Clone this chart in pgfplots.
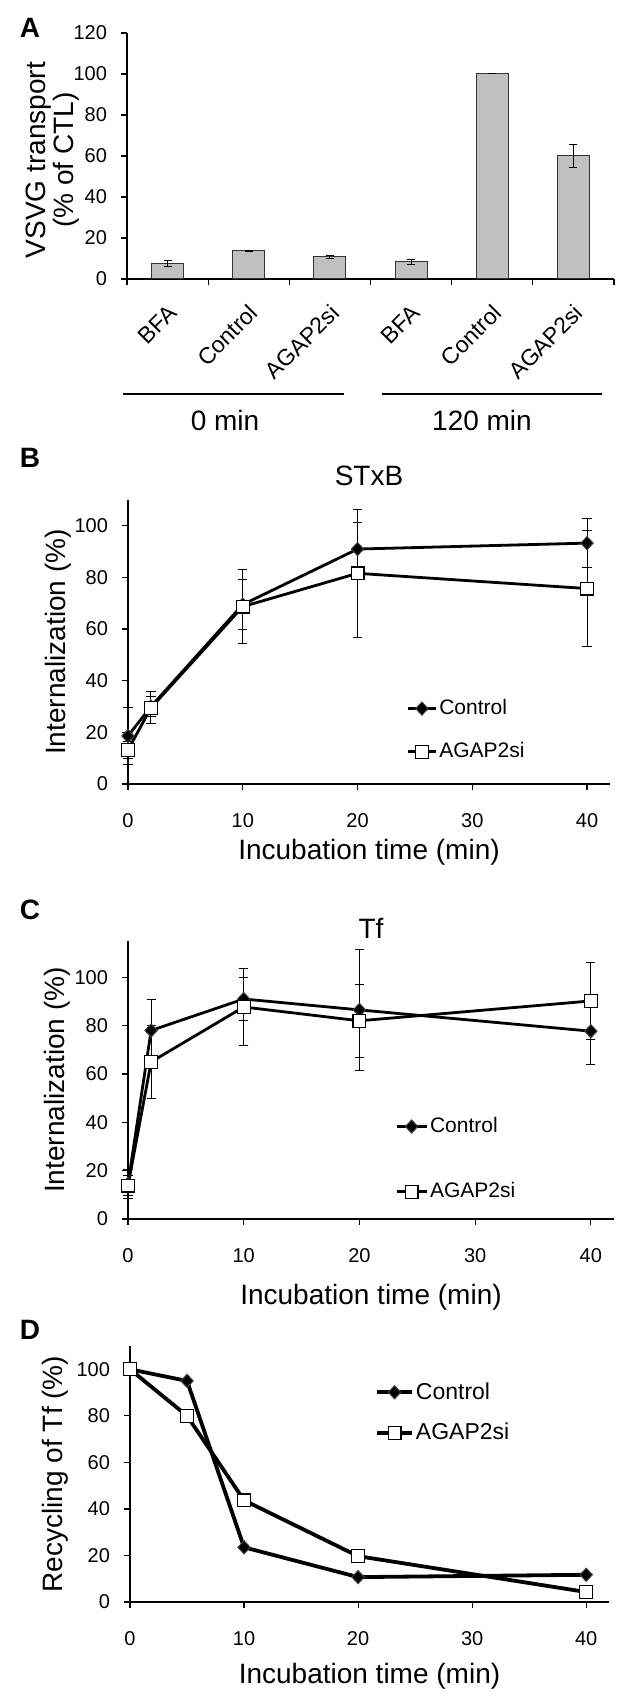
\documentclass[border=0pt]{standalone}
\usepackage{fontspec}
\setmainfont{Liberation Sans}
\usepackage{pgfplots}
\usepackage{pgfplotstable}
\pgfplotsset{compat=1.18}
\definecolor{barg}{RGB}{192,192,192}
\newcommand{\fs}[1]{\fontsize{#1}{#1}\selectfont}

\pgfplotstableread{
x y e
0 7.6 1.3
1 13.8 0.3
2 10.9 0.8
3 8.3 1.2
4 100 0
5 60 5.6
}\dataA
\pgfplotstableread{
x y e
0 18.6 11
2 30 4
10 69.5 9.8
20 91 10.2
40 93.3 9.5
}\dataBc
\pgfplotstableread{
x y e
0 13.2 3.2
2 29.5 6.2
10 68.7 14.3
20 81.6 24.7
40 75.7 22.5
}\dataBa
\pgfplotstableread{
x y e
0 14.5 6
2 78 13
10 91 9
20 86.5 24.9
40 77.7 13.8
}\dataCc
\pgfplotstableread{
x y e
0 13.8 4
2 65 15
10 87.7 16
20 82 15.2
40 90.2 16
}\dataCa
\pgfplotstableread{
x y
0 100
5 95
10 23.5
20 10.7
40 11.7
}\dataDc
\pgfplotstableread{
x y
0 100
5 80
10 43.7
20 19.7
40 4.3
}\dataDa

\pgfplotsset{
  panel/.style={
    scale only axis,
    anchor=south west,
    axis lines=left,
    axis line style={-, line width=0.6pt},
    tick align=outside,
    major tick length=3pt,
    minor tick length=3pt,
    every tick/.style={black, line width=0.6pt},
    /pgf/number format/assume math mode=true,
    clip=false,
    label style={font=\fs{14}},
    yticklabel style={font=\fs{10}, xshift=-3.5pt},
  },
  linepanel/.style={
    panel,
    xmin=0, xmax=42, ymin=0,
    xtick={0,10,20,30,40},
    ytick={0,20,40,60,80,100},
    xticklabel style={font=\fs{10}, yshift=-8pt},
    legend cell align=left,
    xlabel={Incubation time (min)},
  },
  ctl/.style={black, line width=1.4pt, mark=diamond*, mark size=3.3pt,
    mark options={solid, fill=black, draw=black!75, line width=0.5pt, xscale=1.25}},
  agap/.style={black, line width=1.4pt, mark=square*, mark size=3.2pt,
    mark options={solid, fill=white, draw=black, line width=0.6pt}},
  eb/.style={error bars/y dir=both, error bars/y explicit, error bars/error mark=-,
    error bars/error mark options={rotate=90, black, line width=0.5pt, mark size=2.3pt},
    error bars/error bar style={black, line width=0.5pt}},
}

\begin{document}
\begin{tikzpicture}
\useasboundingbox (0,0) rectangle (311pt,-850.5pt);

% Panel letters and titles
\node[font=\bfseries\fs{14}] at (15pt,-14pt) {A};
\node[font=\bfseries\fs{14}] at (15pt,-229pt) {B};
\node[font=\bfseries\fs{14}] at (15pt,-455pt) {C};
\node[font=\bfseries\fs{14}] at (15pt,-665pt) {D};
\node[font=\fs{14}] at (184.5pt,-238pt) {STxB};
\node[font=\fs{14}] at (185.5pt,-464pt) {Tf};

% Panel A
\begin{axis}[panel,
  at={(63.5pt,-139.5pt)}, width=243.5pt, height=123pt,
  xmin=-0.5, xmax=5.5, ymin=0, ymax=120,
  ytick={0,20,...,120},
  xtick={0,...,5},
  xticklabels={BFA,Control,AGAP2si,BFA,Control,AGAP2si},
  minor xtick={-0.5,0.5,...,5.5},
  major x tick style={draw=none},
  xticklabel style={xshift=5pt, yshift=-9.5pt, rotate=45, anchor=east, font=\fs{11.5}},
  ylabel={VSVG transport\\(\% of CTL)},
  ylabel style={at={(axis description cs:-0.152,0.4837)}, anchor=center, align=center, font=\fontsize{14}{14}\selectfont},
]
\addplot[ybar, bar width=16pt, fill=barg, draw=black!80, line width=0.5pt,
  error bars/y dir=both, error bars/y explicit, error bars/error mark=-,
  error bars/error mark options={rotate=90, black, line width=0.5pt, mark size=2pt},
  error bars/error bar style={black, line width=0.5pt}]
  table[x=x, y=y, y error=e] {\dataA};
\end{axis}
\draw[line width=0.65pt] (61.5pt,-197pt) -- (172pt,-197pt);
\draw[line width=0.65pt] (191pt,-197pt) -- (301pt,-197pt);
\node[font=\fs{14}] at (112.5pt,-210pt) {0 min};
\node[font=\fs{14}] at (241pt,-210pt) {120 min};

% Panel B
\begin{axis}[linepanel,
  at={(64pt,-392pt)}, width=241pt, height=142pt, ymax=110,
  ylabel={Internalization (\%)},
  ylabel style={at={(axis description cs:-0.145,0.5)}, anchor=center},
  xlabel style={at={(axis description cs:0.5,-0.2394)}, anchor=center},
  legend style={draw=none, fill=none, at={(axis description cs:0.577,0.306)}, anchor=north west,
    inner sep=0pt, row sep=10.5pt, column sep=0pt, font=\fs{10.5}, nodes={inner sep=1pt}},
  legend image code/.code={\draw[mark repeat=2,mark phase=2,#1] plot coordinates {(0pt,0pt) (7pt,0pt) (14pt,0pt)};},
]
\addplot[ctl, eb] table[x=x, y=y, y error=e] {\dataBc};
\addlegendentry{Control}
\addplot[agap, eb] table[x=x, y=y, y error=e] {\dataBa};
\addlegendentry{AGAP2si}
\end{axis}

% Panel C
\begin{axis}[linepanel,
  at={(64pt,-609.5pt)}, width=243pt, height=139pt, ymax=115,
  ylabel={Internalization (\%)},
  ylabel style={at={(axis description cs:-0.146,0.5)}, anchor=center},
  xlabel style={at={(axis description cs:0.5,-0.2806)}, anchor=center},
  legend style={draw=none, fill=none, at={(axis description cs:0.549,0.374)}, anchor=north west,
    inner sep=0pt, row sep=21.5pt, column sep=0pt, font=\fs{10.5}, nodes={inner sep=1pt}},
  legend image code/.code={\draw[mark repeat=2,mark phase=2,#1] plot coordinates {(0pt,0pt) (7.5pt,0pt) (15pt,0pt)};},
]
\addplot[ctl, eb] table[x=x, y=y, y error=e] {\dataCc};
\addlegendentry{Control}
\addplot[agap, eb] table[x=x, y=y, y error=e] {\dataCa};
\addlegendentry{AGAP2si}
\end{axis}

% Panel D
\begin{axis}[linepanel,
  at={(65pt,-801pt)}, width=239.5pt, height=128pt, ymax=110,
  ylabel={Recycling of Tf (\%)},
  ylabel style={at={(axis description cs:-0.1555,0.5)}, anchor=center},
  xlabel style={at={(axis description cs:0.5,-0.289)}, anchor=center},
  legend style={draw=none, fill=none, at={(axis description cs:0.511,0.867)}, anchor=north west,
    inner sep=0pt, row sep=8.5pt, column sep=0pt, font=\fs{11.5}, nodes={inner sep=1pt}},
  legend image code/.code={\draw[mark repeat=2,mark phase=2,#1] plot coordinates {(0pt,0pt) (8.75pt,0pt) (17.5pt,0pt)};},
]
\addplot[ctl, line width=1.9pt] table[x=x, y=y] {\dataDc};
\addlegendentry{Control}
\addplot[agap, line width=1.9pt] table[x=x, y=y] {\dataDa};
\addlegendentry{AGAP2si}
\end{axis}
\end{tikzpicture}
\end{document}
